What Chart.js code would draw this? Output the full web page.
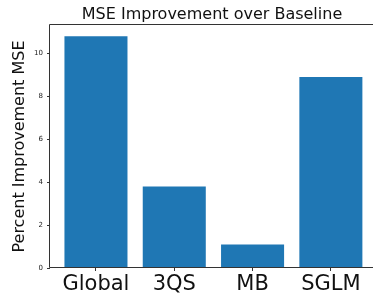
<!DOCTYPE html>
<html>
<head>
<meta charset="utf-8">
<script src="https://cdn.jsdelivr.net/npm/chart.js@4"></script>
<style>
  html, body { margin: 0; padding: 0; background: #fff; }
  #wrap { width: 373px; height: 293px; }
</style>
</head>
<body>
<div id="wrap"><canvas id="mseChart" width="373" height="293"></canvas></div>
<script>
const categories = ['Global', '3QS', 'MB', 'SGLM'];
const improvement = [10.8, 3.8, 1.1, 8.9];
const yTicks = [0, 2, 4, 6, 8, 10];
const chartTitle = 'MSE Improvement over Baseline';
const yLabel = 'Percent Improvement MSE';

const barColor = '#1f77b4';
const fontFamily = '"DejaVu Sans", sans-serif';

// left/top/bottom spines (right one is cut off in the original) + title over the axes
const frameAndTitle = {
    id: 'frameAndTitle',
    afterDraw(chart) {
        const ctx = chart.ctx;
        const a = chart.chartArea;
        const l = Math.round(a.left) - 0.5;
        const t = Math.round(a.top) - 0.5;
        const b = Math.round(a.bottom) - 0.5;
        ctx.save();
        ctx.strokeStyle = '#333';
        ctx.lineWidth = 1;
        ctx.beginPath();
        ctx.moveTo(a.right, t);
        ctx.lineTo(l, t);
        ctx.lineTo(l, b);
        ctx.lineTo(a.right, b);
        ctx.stroke();
        ctx.fillStyle = '#111';
        ctx.font = '16px ' + fontFamily;
        ctx.textAlign = 'center';
        ctx.textBaseline = 'alphabetic';
        ctx.fillText(chartTitle, 212, 19);
        ctx.restore();
    }
};

const data = {
    datasets: [{
        label: yLabel,
        data: improvement.map((v, i) => ({ x: i, y: v })),
        backgroundColor: barColor,
        borderWidth: 0,
        barPercentage: 0.805,
        categoryPercentage: 1
    }]
};

const config = {
    type: 'bar',
    data: data,
    options: {
        responsive: false,
        animation: false,
        devicePixelRatio: 1,
        layout: { padding: { top: 25, right: 0, left: 0, bottom: 0 } },
        plugins: {
            legend: { display: false },
            tooltip: { enabled: false },
            title: { display: false }
        },
        scales: {
            x: {
                type: 'linear',
                offset: false,
                min: -0.587,
                max: 3.538,
                afterBuildTicks: (scale) => {
                    scale.ticks = categories.map((c, i) => ({ value: i }));
                },
                afterFit: (scale) => { scale.height = 25; },
                ticks: {
                    callback: (v) => categories[v],
                    color: '#111',
                    font: { family: fontFamily, size: 21, lineHeight: 1 },
                    padding: 3,
                    maxRotation: 0,
                    autoSkip: false
                },
                grid: {
                    display: true,
                    offset: false,
                    drawOnChartArea: false,
                    drawTicks: true,
                    tickLength: 3,
                    tickColor: '#333'
                },
                border: { display: false }
            },
            y: {
                min: 0,
                max: 11.32,
                afterBuildTicks: (scale) => {
                    scale.ticks = yTicks.map(v => ({ value: v }));
                },
                afterFit: (scale) => { scale.width = 50; },
                ticks: {
                    color: '#222',
                    font: { family: fontFamily, size: 7 },
                    padding: 4
                },
                grid: {
                    display: true,
                    drawOnChartArea: false,
                    drawTicks: true,
                    tickLength: 3,
                    tickColor: '#333'
                },
                border: { display: false },
                title: {
                    display: true,
                    text: yLabel,
                    color: '#111',
                    font: { family: fontFamily, size: 16 },
                    padding: { top: 10, bottom: 0 }
                }
            }
        }
    },
    plugins: [frameAndTitle]
};

const ch = new Chart(document.getElementById('mseChart'), config);
</script>
</body>
</html>
